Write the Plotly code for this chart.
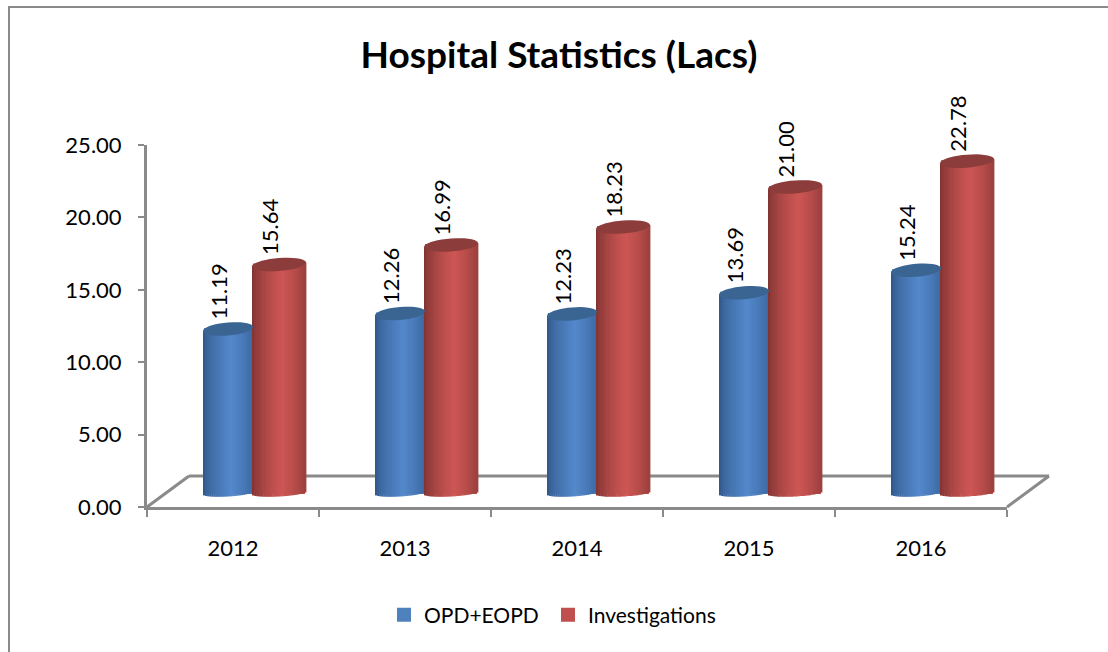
import math
import plotly.graph_objects as go

years = ["2012", "2013", "2014", "2015", "2016"]
opd_eopd = [11.19, 12.26, 12.23, 13.69, 15.24]
investigations = [15.64, 16.99, 18.23, 21.00, 22.78]
y_ticks = [0, 5, 10, 15, 20, 25]

W, H = 1108, 652
L, R, T, B = 147, 1007, 145, 507
CAT_PX = 172.0
UNIT_PX = (B - T) / 25.0
GREY = "#8a8a8a"
FONT = "Lato, 'Open Sans', sans-serif"


def vpx(n):
    return n / UNIT_PX


def xpx(n):
    return n / CAT_PX


def lerp_col(a, b, f):
    return "rgb(%d,%d,%d)" % tuple(round(a[i] + (b[i] - a[i]) * f) for i in range(3))


series = [
    dict(name="OPD+EOPD", vals=opd_eopd, left=-30, right=20, legend="#4f81bd", group="legend",
         edge=(44, 82, 130), mid=(84, 136, 204), cap="#3a6593"),
    dict(name="Investigations", vals=investigations, left=19, right=73, legend="#c0504d", group="legend2",
         edge=(118, 48, 46), mid=(206, 86, 84), cap="#8c3c3a"),
]

TOP_SHIFT = 16      # depth shift of the bar top above the value level, px
FLOOR_Y = 14        # depth shift of the bar foot above the axis, px
CAP_B = 6.5         # half height of the elliptical cap, px
TILT = 2.0          # rise of the ellipse toward its right end, px
STRIPS = 24
LABEL_SHIFT = -10   # rotated value labels sit left of the bar centre, px

fig = go.Figure()
shapes = []

for s in series:
    w_px = s["right"] - s["left"]
    # solid body carrying the legend entry
    fig.add_trace(go.Bar(
        x=years, y=[v + vpx(TOP_SHIFT - FLOOR_Y) for v in s["vals"]], base=[vpx(FLOOR_Y)] * 5,
        offset=xpx(s["left"] + 2), width=xpx(w_px - 4), name=s["name"], legend=s["group"],
        marker=dict(color=s["legend"], line=dict(width=2, color=s["legend"])), cliponaxis=False,
        hoverinfo="skip"))
    # cylinder shading
    for k in range(STRIPS):
        t = -1 + 2 * (k + 0.5) / STRIPS
        f = max(0.0, 1 - abs(t - 0.12) / 1.12) ** 0.6
        foot = vpx(FLOOR_Y) - vpx(3.5 * math.sqrt(max(0, 1 - t * t))) + vpx(1.5 * t)
        tops = [v + vpx(TOP_SHIFT) + vpx(TILT * t) for v in s["vals"]]
        fig.add_trace(go.Bar(
            x=years, y=[tp - foot for tp in tops], base=[foot] * 5,
            offset=xpx(s["left"] + w_px * k / STRIPS), width=xpx(w_px / STRIPS + 0.4),
            marker=dict(color=lerp_col(s["edge"], s["mid"], f), line=dict(width=0)),
            showlegend=False, cliponaxis=False, hoverinfo="skip"))
    # value labels
    fig.add_trace(go.Bar(
        x=years, y=[v + vpx(TOP_SHIFT + CAP_B - FLOOR_Y) for v in s["vals"]], base=[vpx(FLOOR_Y)] * 5,
        offset=xpx(s["left"] + LABEL_SHIFT), width=xpx(w_px),
        marker=dict(color="rgba(0,0,0,0)", line=dict(width=0)),
        text=["%.2f" % v for v in s["vals"]], textposition="outside", textangle=-90,
        textfont=dict(family=FONT, size=22, color="#000000"), constraintext="none",
        showlegend=False, cliponaxis=False, hovertemplate="%{x}: %{text}<extra>" + s["name"] + "</extra>"))
    # elliptical caps
    for i, v in enumerate(s["vals"]):
        cx = i + xpx((s["left"] + s["right"]) / 2)
        cy = v + vpx(TOP_SHIFT)
        pts = []
        for j in range(36):
            a = 2 * math.pi * j / 36
            pts.append((cx + xpx(w_px / 2) * math.cos(a),
                        cy + vpx(CAP_B) * math.sin(a) + vpx(TILT) * math.cos(a)))
        path = "M" + " L".join("%.4f,%.4f" % p for p in pts) + " Z"
        shapes.append(dict(type="path", xref="x", yref="y", path=path, fillcolor=s["cap"],
                           line=dict(width=0), layer="above"))

pw, ph = R - L, B - T
fx = lambda p: (p - L) / pw
fy = lambda p: (B - p) / ph

# floor of the 3-D box (runs past the plot area, so it is placed on the paper)
DEPTH_X, DEPTH_Y = 42, 31
for x0, y0, x1, y1 in [(L, B, L + DEPTH_X, B - DEPTH_Y),
                       (L + DEPTH_X, B - DEPTH_Y, R + DEPTH_X, B - DEPTH_Y),
                       (R + DEPTH_X, B - DEPTH_Y, R, B)]:
    shapes.append(dict(type="line", xref="paper", yref="paper", x0=fx(x0), y0=fy(y0), x1=fx(x1), y1=fy(y1),
                       line=dict(color=GREY, width=3), layer="below"))

# outer frame of the chart
shapes.append(dict(type="line", xref="paper", yref="paper", x0=fx(9), x1=fx(9), y0=fy(7), y1=fy(H),
                   line=dict(color=GREY, width=2)))
shapes.append(dict(type="line", xref="paper", yref="paper", x0=fx(8), x1=fx(W), y0=fy(7), y1=fy(7),
                   line=dict(color=GREY, width=2)))

legend_style = dict(orientation="h", xanchor="left", yanchor="middle", y=fy(615),
                    font=dict(family=FONT, size=21, color="#000000"), bgcolor="rgba(0,0,0,0)")

fig.update_layout(
    width=W, height=H, autosize=False,
    margin=dict(l=L, r=W - R, t=T, b=H - B, pad=0),
    paper_bgcolor="white", plot_bgcolor="white",
    barmode="overlay", shapes=shapes,
    font=dict(family=FONT, color="#000000"),
    title=dict(text="<b>Hospital Statistics (Lacs)</b>", x=559 / W, xanchor="center", xref="container",
               y=1 - 55 / H, yanchor="middle", yref="container",
               font=dict(family=FONT, size=37, color="#000000")),
    legend=dict(x=fx(384), **legend_style),
    legend2=dict(x=fx(548), **legend_style),
    xaxis=dict(type="category", categoryorder="array", categoryarray=years,
               range=[-0.5, 4.5], tickson="boundaries",
               ticks="outside", ticklen=7, tickwidth=2, tickcolor=GREY,
               showline=True, linecolor=GREY, linewidth=3, showgrid=False, zeroline=False,
               tickfont=dict(family=FONT, size=22, color="#000000"), ticklabelstandoff=20),
    yaxis=dict(range=[0, 25], tickvals=y_ticks, tickformat=".2f",
               ticks="outside", ticklen=6, tickwidth=2, tickcolor=GREY,
               showline=True, linecolor=GREY, linewidth=3, showgrid=False, zeroline=False,
               tickfont=dict(family=FONT, size=22, color="#000000"), ticklabelstandoff=12),
)

fig.write_html("out.html", config={"displayModeBar": False},
               post_script="document.body.style.margin='0';document.body.style.overflow='hidden';")
